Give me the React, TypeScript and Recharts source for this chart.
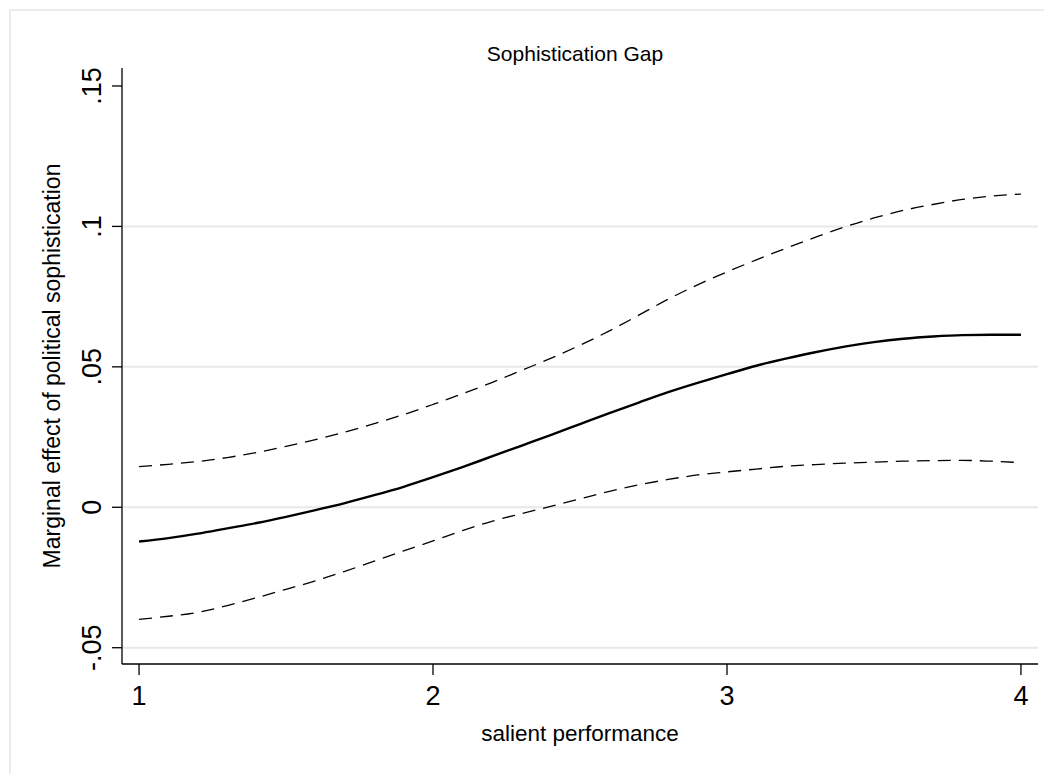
import React from 'react';
import { LineChart, Line, XAxis, YAxis, ReferenceLine, Label } from 'recharts';

const xValues = [1.0, 1.1, 1.2, 1.3, 1.4, 1.5, 1.6, 1.7, 1.8, 1.9, 2.0, 2.1, 2.2, 2.3, 2.4, 2.5, 2.6, 2.7, 2.8, 2.9, 3.0, 3.1, 3.2, 3.3, 3.4, 3.5, 3.6, 3.7, 3.8, 3.9, 4.0];
const effect = [-0.0122, -0.011, -0.0094, -0.0075, -0.0056, -0.0034, -0.001, 0.0015, 0.0043, 0.0073, 0.0107, 0.0143, 0.0181, 0.0219, 0.0257, 0.0296, 0.0335, 0.0373, 0.041, 0.0443, 0.0474, 0.0504, 0.0529, 0.0552, 0.0572, 0.0588, 0.06, 0.0608, 0.0613, 0.0614, 0.0614];
const upper = [0.0145, 0.0153, 0.0163, 0.0177, 0.0195, 0.0217, 0.0241, 0.0268, 0.0298, 0.033, 0.0366, 0.0404, 0.0444, 0.0487, 0.053, 0.0577, 0.0628, 0.0684, 0.0741, 0.0792, 0.0838, 0.0881, 0.0922, 0.0961, 0.0998, 0.103, 0.1057, 0.1078, 0.1096, 0.1108, 0.1115];
const lower = [-0.0399, -0.0388, -0.0374, -0.035, -0.0322, -0.0292, -0.0262, -0.0228, -0.0192, -0.0155, -0.012, -0.0083, -0.005, -0.0023, 0.0003, 0.003, 0.0057, 0.008, 0.0099, 0.0115, 0.0126, 0.0136, 0.0146, 0.0152, 0.0157, 0.0161, 0.0164, 0.0166, 0.0167, 0.0164, 0.0159];

const xTicks = [1, 2, 3, 4];
const yTicks = [-0.05, 0, 0.05, 0.1, 0.15];
const yTickLabels = ['-.05', '0', '.05', '.1', '.15'];
const gridValues = [-0.05, 0, 0.05, 0.1];

const title = 'Sophistication Gap';
const xTitle = 'salient performance';
const yTitle = 'Marginal effect of political sophistication';

const data = xValues.map((x, i) => ({ x, effect: effect[i], upper: upper[i], lower: lower[i] }));

const FONT = '"Liberation Sans", Arial, Helvetica, sans-serif';

const XTick = (props: any) => {
  const { x, y, payload } = props;
  return (
    <text x={x} y={y + 28} textAnchor="middle" fontFamily={FONT} fontSize={27} fill="#000">
      {String(payload.value)}
    </text>
  );
};

const YTick = (props: any) => {
  const { y, payload } = props;
  const idx = yTicks.findIndex((v) => Math.abs(v - payload.value) < 1e-9);
  const label = idx >= 0 ? yTickLabels[idx] : String(payload.value);
  return (
    <g transform={`translate(93, ${y}) rotate(-90)`}>
      <text x={0} y={0} textAnchor="middle" fontFamily={FONT} fontSize={27} fill="#000">
        {label}
      </text>
    </g>
  );
};

export default function App() {
  return (
    <div style={{ position: 'relative', width: 1044, height: 766 }}>
      <div
        style={{
          position: 'absolute',
          left: 1,
          top: 1,
          width: 1100,
          height: 800,
          borderTop: '2px solid #ececec',
          borderLeft: '2px solid #ececec',
        }}
      />
      <div style={{ position: 'absolute', left: 0, top: 0 }}>
        <LineChart
          width={1044}
          height={766}
          data={data}
          margin={{ top: 60, right: 14, bottom: 0, left: 0 }}
        >
          <XAxis
            dataKey="x"
            type="number"
            domain={[0.942, 4.058]}
            ticks={xTicks}
            allowDataOverflow
            height={110}
            tickSize={11}
            tick={<XTick />}
            axisLine={{ stroke: '#000', strokeWidth: 1.3 }}
            tickLine={{ stroke: '#000', strokeWidth: 1.3 }}
          >
            <Label
              content={(p: any) => {
                const vb = p.viewBox || {};
                return (
                  <text
                    x={vb.x + vb.width / 2}
                    y={732.5}
                    textAnchor="middle"
                    fontFamily={FONT}
                    fontSize={22.5}
                    fill="#000"
                  >
                    {xTitle}
                  </text>
                );
              }}
            />
          </XAxis>
          <YAxis
            type="number"
            domain={[-0.0558, 0.1564]}
            ticks={yTicks}
            allowDataOverflow
            width={114}
            tickSize={10}
            tick={<YTick />}
            axisLine={{ stroke: '#000', strokeWidth: 1.3 }}
            tickLine={{ stroke: '#000', strokeWidth: 1.3 }}
          >
            <Label
              content={(p: any) => {
                const vb = p.viewBox || {};
                const cy = vb.y + vb.height / 2;
                return (
                  <g transform={`translate(51.5, ${cy}) rotate(-90)`}>
                    <text x={0} y={0} textAnchor="middle" fontFamily={FONT} fontSize={23} fill="#000">
                      {yTitle}
                    </text>
                  </g>
                );
              }}
            />
          </YAxis>
          {gridValues.map((v) => (
            <ReferenceLine key={v} y={v} stroke="#e8e8e8" strokeWidth={2} ifOverflow="hidden" />
          ))}
          <Line
            type="monotone"
            dataKey="upper"
            stroke="#000"
            strokeWidth={1.3}
            strokeDasharray="13 8"
            dot={false}
            activeDot={false}
            isAnimationActive={false}
          />
          <Line
            type="monotone"
            dataKey="lower"
            stroke="#000"
            strokeWidth={1.3}
            strokeDasharray="13 8"
            dot={false}
            activeDot={false}
            isAnimationActive={false}
          />
          <Line
            type="monotone"
            dataKey="effect"
            stroke="#000"
            strokeWidth={2.4}
            dot={false}
            activeDot={false}
            isAnimationActive={false}
          />
        </LineChart>
      </div>
      <div
        style={{
          position: 'absolute',
          left: 575 - 300 - 8,
          width: 600,
          top: 33,
          textAlign: 'center',
          fontFamily: FONT,
          fontSize: 21,
          lineHeight: '26px',
          color: '#000',
        }}
      >
        {title}
      </div>
    </div>
  );
}
